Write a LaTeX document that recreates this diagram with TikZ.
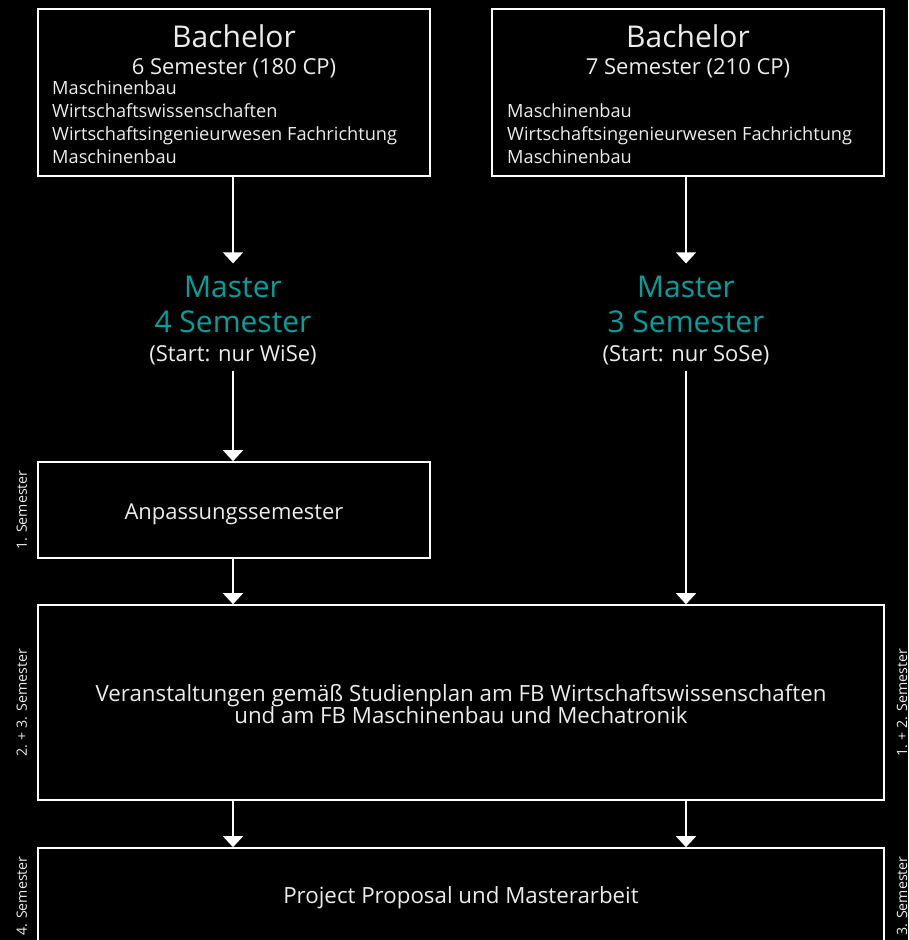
\documentclass[tikz,border=0pt]{standalone}
\usepackage{fontspec}
\setmainfont{Open Sans}
\usetikzlibrary{arrows.meta}
\definecolor{mastercol}{RGB}{0,160,158}
\definecolor{txtcol}{RGB}{236,236,236}

\begin{document}
\begin{tikzpicture}[x=1pt,y=-1pt,
    box/.style={draw=white,line width=1.6pt,inner sep=0pt},
    txt/.style={text=txtcol,inner sep=0pt,anchor=base},
    item/.style={txt,anchor=base west,font=\fontsize{18.2}{22}\selectfont},
    big/.style={font=\fontsize{30}{35}\selectfont},
    mid/.style={font=\fontsize{22}{26}\selectfont},
    body/.style={txt,font=\fontsize{22.3}{26}\selectfont},
    master/.style={txt,big,text=mastercol,inner ysep=12pt},
    masterstart/.style={txt,mid,inner ysep=6pt},
    side/.style={txt,rotate=90,font=\fontsize{14.2}{17}\selectfont},
    arr/.style={draw=white,line width=1.6pt,-{Triangle[width=20pt,length=11pt]}}]

    % page and background
    \fill[black] (0,0) rectangle (908,940);
    \useasboundingbox (0,0) rectangle (908,940);

    % Bachelor, 6 Semester
    \node[box,minimum width=392pt,minimum height=167pt] (bl) at (234,92.5) {};
    \node[txt,big] (bl-a) at (234,47) {Bachelor};
    \node[txt,mid] (bl-b) at (234,74) {6 Semester (180 CP)};
    \foreach \t [count=\i] in {Maschinenbau,Wirtschaftswissenschaften,Wirtschaftsingenieurwesen Fachrichtung,Maschinenbau}
        \node[item] (bl-\i) at (52,71+23*\i) {\t};

    % Bachelor, 7 Semester
    \node[box,minimum width=392pt,minimum height=167pt] (br) at (688,92.5) {};
    \node[txt,big] (br-a) at (688,47) {Bachelor};
    \node[txt,mid] (br-b) at (688,74) {7 Semester (210 CP)};
    \foreach \t [count=\i] in {Maschinenbau,Wirtschaftsingenieurwesen Fachrichtung,Maschinenbau}
        \node[item] (br-\i) at (507,94+23*\i) {\t};

    % Master
    \node[master] (ml-a) at (233,297) {Master};
    \node[master,inner ysep=0pt] (ml-b) at (233,332) {4 Semester};
    \node[masterstart] (ml-c) at (233,361) {(Start: nur WiSe)};
    \node[master] (mr-a) at (686,297) {Master};
    \node[master,inner ysep=0pt] (mr-b) at (686,332) {3 Semester};
    \node[masterstart] (mr-c) at (686,361) {(Start: nur SoSe)};

    % Semester boxes
    \node[box,minimum width=392pt,minimum height=96pt] (anp) at (234,510) {};
    \node[txt,mid] (anp-t) at (234,519) {Anpassungssemester};
    \node[box,minimum width=846pt,minimum height=195pt] (big) at (461,702.5) {};
    \node[body] (big-a) at (461,701) {Veranstaltungen gemäß Studienplan am FB Wirtschaftswissenschaften};
    \node[body] (big-b) at (461,723) {und am FB Maschinenbau und Mechatronik};
    \node[box,minimum width=846pt,minimum height=96pt] (proj) at (461,896) {};
    \node[body] (proj-t) at (461,903) {Project Proposal und Masterarbeit};

    % side labels
    \node[side] (s1) at (27,510) {1. Semester};
    \node[side] (s23) at (27,703) {2. + 3. Semester};
    \node[side] (s4) at (27,896) {4. Semester};
    \node[side] (r12) at (907,703) {1. + 2. Semester};
    \node[side] (r3) at (907,896) {3. Semester};

    % arrows
    \draw[arr] (ml-a.north |- bl.south) -- (ml-a.north);
    \draw[arr] (ml-c.south) -- (ml-c.south |- anp.north);
    \draw[arr] (ml-c.south |- anp.south) -- (ml-c.south |- big.north);
    \draw[arr] (mr-a.north |- br.south) -- (mr-a.north);
    \draw[arr] (mr-c.south) -- (mr-c.south |- big.north);
    \draw[arr] (ml-c.south |- big.south) -- (ml-c.south |- proj.north);
    \draw[arr] (mr-c.south |- big.south) -- (mr-c.south |- proj.north);
\end{tikzpicture}
\end{document}
